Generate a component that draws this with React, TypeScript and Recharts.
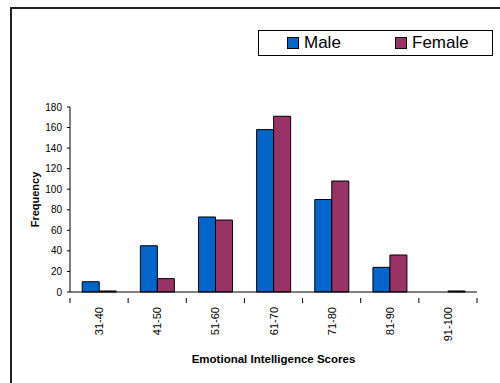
import { BarChart, Bar, XAxis, YAxis, Label } from 'recharts'

const scoreBands = ['31-40', '41-50', '51-60', '61-70', '71-80', '81-90', '91-100']
const maleCounts = [10, 45, 73, 158, 90, 24, 0]
const femaleCounts = [1, 13, 70, 171, 108, 36, 1]
const freqTicks = [0, 20, 40, 60, 80, 100, 120, 140, 160, 180]

const MALE = '#0066cc'
const FEMALE = '#993366'
const FONT = '"Liberation Sans", Arial, sans-serif'

const data = scoreBands.map((band, i) => ({
  band,
  Male: maleCounts[i],
  Female: femaleCounts[i],
}))

function BandTick(props: any) {
  const { x, y, payload, index } = props
  const half = payload.offset ?? 0
  return (
    <g>
      <line x1={x - half} x2={x - half} y1={y - 2} y2={y + 3} stroke="#000" />
      {index === scoreBands.length - 1 && (
        <line x1={x + half} x2={x + half} y1={y - 2} y2={y + 3} stroke="#000" />
      )}
      <text
        x={x}
        y={y + 7}
        transform={`rotate(-90, ${x}, ${y + 7})`}
        textAnchor="end"
        dominantBaseline="central"
        fontSize={11}
        fontFamily={FONT}
        fill="#000"
      >
        {payload.value}
      </text>
    </g>
  )
}

function LegendBox() {
  const item = (color: string, name: string) => (
    <div style={{ display: 'flex', alignItems: 'center', gap: 5 }}>
      <span
        style={{
          width: 10,
          height: 10,
          background: color,
          border: '1px solid #000',
          display: 'inline-block',
        }}
      />
      <span>{name}</span>
    </div>
  )
  return (
    <div
      style={{
        position: 'absolute',
        left: 258,
        top: 30,
        width: 233,
        height: 24,
        border: '1px solid #000',
        display: 'flex',
        alignItems: 'center',
        fontFamily: FONT,
        fontSize: 17,
        color: '#000',
        background: '#fff',
      }}
    >
      <div style={{ marginLeft: 28, width: 108 }}>{item(MALE, 'Male')}</div>
      <div>{item(FEMALE, 'Female')}</div>
    </div>
  )
}

export default function App() {
  return (
    <div style={{ position: 'absolute', left: 0, top: 0, width: 500, height: 383, background: '#fff' }}>
      <div
        style={{
          position: 'absolute',
          left: 10,
          top: 7,
          width: 500,
          height: 400,
          borderLeft: '2px solid #222',
          borderTop: '2px solid #222',
        }}
      />
      <BarChart
        width={500}
        height={383}
        data={data}
        margin={{ top: 107, right: 23, left: 0, bottom: 0 }}
        barCategoryGap="21%"
        barGap={0}
        style={{ position: 'absolute', left: 0, top: 0 }}
      >
        <XAxis
          dataKey="band"
          height={91}
          tickLine={false}
          axisLine={{ stroke: '#000' }}
          tick={<BandTick />}
          interval={0}
        >
          <Label
            value="Emotional Intelligence Scores"
            position="insideBottom"
            offset={20}
            style={{ fontFamily: FONT, fontSize: 11.5, fontWeight: 'bold', fill: '#000' }}
          />
        </XAxis>
        <YAxis
          width={70}
          domain={[0, 180]}
          ticks={freqTicks}
          interval={0}
          tickSize={3}
          tickMargin={5}
          tickLine={{ stroke: '#000' }}
          axisLine={{ stroke: '#000' }}
          tick={{ fontSize: 10, fontFamily: FONT, fill: '#000' }}
        >
          <Label
            content={(p: any) => {
              const vb = p.viewBox
              const cx = vb.x + 35
              const cy = vb.y + vb.height / 2
              return (
                <text
                  x={cx}
                  y={cy}
                  transform={`rotate(-90, ${cx}, ${cy})`}
                  textAnchor="middle"
                  dominantBaseline="central"
                  fontFamily={FONT}
                  fontSize={11}
                  fontWeight="bold"
                  fill="#000"
                >
                  Frequency
                </text>
              )
            }}
          />
        </YAxis>
        <Bar dataKey="Male" fill={MALE} stroke="#000" strokeWidth={1} isAnimationActive={false} />
        <Bar dataKey="Female" fill={FEMALE} stroke="#000" strokeWidth={1} isAnimationActive={false} />
      </BarChart>
      <LegendBox />
    </div>
  )
}
